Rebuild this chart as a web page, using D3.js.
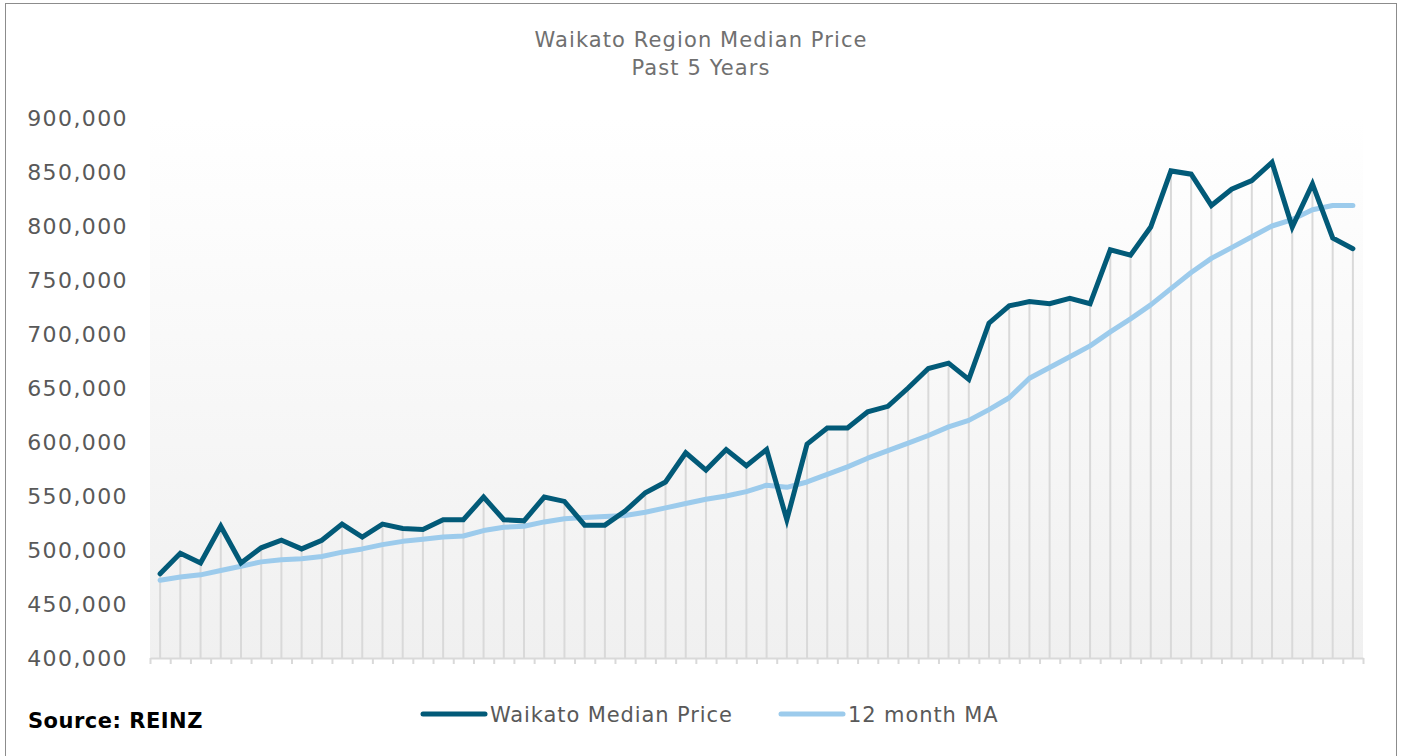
<!DOCTYPE html>
<html>
<head>
<meta charset="utf-8">
<script src="https://cdn.jsdelivr.net/npm/d3@7"></script>
<style>
  body { margin: 0; background: #fff; }
  svg { display: block; }
</style>
</head>
<body>
<div id="chart"></div>
<script>
// month index, 60 months = past 5 years
var months = d3.range(1, 61);

// Waikato median price (NZD)
var medianPrice = [
  478000, 497000, 488000, 522000, 488000, 502000, 509000, 501000, 509000, 524000,
  512000, 524000, 520000, 519000, 528000, 528000, 549000, 528000, 527000, 549000,
  545000, 523000, 523000, 536000, 553000, 563000, 590000, 574000, 593000, 578000,
  593000, 528000, 598000, 613000, 613000, 628000, 633000, 650000, 668000, 673000,
  658000, 710000, 726000, 730000, 728000, 733000, 728000, 778000, 773000, 799000,
  851000, 848000, 819000, 834000, 842000, 859000, 799000, 839000, 789000, 779000
];

// 12 month moving average
var movingAvg = [
  472000, 475000, 477000, 481000, 485000, 489000, 491000, 492000, 494000, 498000,
  501000, 505000, 508000, 510000, 512000, 513000, 518000, 521000, 522000, 526000,
  529000, 530000, 531000, 532000, 535000, 539000, 543000, 547000, 550000, 554000,
  560000, 558000, 563000, 570000, 577000, 585000, 592000, 599000, 606000, 614000,
  620000, 630000, 641000, 659000, 669000, 679000, 689000, 702000, 714000, 727000,
  742000, 757000, 770000, 780000, 790000, 800000, 806000, 815000, 819000, 819000
];

var yTicks = [400000, 450000, 500000, 550000, 600000, 650000, 700000, 750000, 800000, 850000, 900000];

var width = 1403, height = 756;
var plotLeft = 150, plotRight = 1363, plotTop = 118, plotBottom = 658;
var darkBlue = "#025a78", lightBlue = "#9ccbec";
var font = "'DejaVu Sans', sans-serif";

var svg = d3.select("#chart").append("svg")
  .attr("width", width)
  .attr("height", height);

// outer frame
svg.append("rect")
  .attr("x", 5.5).attr("y", 3.5)
  .attr("width", 1391).attr("height", 760)
  .attr("fill", "none")
  .attr("stroke", "#8c8c8c")
  .attr("stroke-width", 1);

// plot area gradient
var grad = svg.append("defs").append("linearGradient")
  .attr("id", "bg").attr("x1", 0).attr("y1", 0).attr("x2", 0).attr("y2", 1);
grad.append("stop").attr("offset", "0%").attr("stop-color", "#ffffff");
grad.append("stop").attr("offset", "100%").attr("stop-color", "#f0f0f0");

svg.append("rect")
  .attr("x", plotLeft).attr("y", plotTop)
  .attr("width", plotRight - plotLeft).attr("height", plotBottom - plotTop)
  .attr("fill", "url(#bg)");

var x = d3.scaleBand().domain(months).range([plotLeft, plotRight]);
var xEdge = d3.scaleLinear().domain([0, months.length]).range([plotLeft, plotRight]);
var y = d3.scaleLinear().domain([400000, 900000]).range([plotBottom, plotTop]);

var cx = function(d, i) { return x(months[i]) + x.bandwidth() / 2; };

// drop lines
svg.append("g").selectAll("line")
  .data(medianPrice)
  .enter().append("line")
  .attr("x1", cx).attr("x2", cx)
  .attr("y1", function(d) { return y(d); })
  .attr("y2", plotBottom)
  .attr("stroke", "#d9d9d9")
  .attr("stroke-width", 2);

// x axis (ticks between categories)
var xAxis = svg.append("g")
  .attr("transform", "translate(0," + plotBottom + ")")
  .call(d3.axisBottom(xEdge).tickValues(d3.range(0, months.length + 1)).tickFormat("").tickSize(6).tickSizeOuter(0));
xAxis.selectAll("line, path").attr("stroke", "#d9d9d9").attr("stroke-width", 2);

// y axis
var yAxis = svg.append("g")
  .attr("transform", "translate(" + plotLeft + ",0)")
  .call(d3.axisLeft(y).tickValues(yTicks).tickFormat(d3.format(",")).tickSize(0).tickPadding(22));
yAxis.select(".domain").remove();
yAxis.selectAll("text")
  .attr("font-family", font)
  .attr("font-size", 22)
  .attr("letter-spacing", 1.4)
  .attr("fill", "#595959");

var line = d3.line()
  .x(cx)
  .y(function(d) { return y(d); });

svg.append("path")
  .datum(movingAvg)
  .attr("d", line)
  .attr("fill", "none")
  .attr("stroke", lightBlue)
  .attr("stroke-width", 5)
  .attr("stroke-linejoin", "round")
  .attr("stroke-linecap", "round");

svg.append("path")
  .datum(medianPrice)
  .attr("d", line)
  .attr("fill", "none")
  .attr("stroke", darkBlue)
  .attr("stroke-width", 5)
  .attr("stroke-linejoin", "miter")
  .attr("stroke-linecap", "round");

// title
svg.append("text")
  .attr("x", 701).attr("y", 47)
  .attr("text-anchor", "middle")
  .attr("font-family", font).attr("font-size", 21)
  .attr("letter-spacing", 1.1)
  .attr("fill", "#707070")
  .text("Waikato Region Median Price");
svg.append("text")
  .attr("x", 701).attr("y", 75)
  .attr("text-anchor", "middle")
  .attr("font-family", font).attr("font-size", 21)
  .attr("letter-spacing", 1.1)
  .attr("fill", "#707070")
  .text("Past 5 Years");

// legend
var legend = [
  { name: "Waikato Median Price", color: darkBlue, x: 423 },
  { name: "12 month MA", color: lightBlue, x: 781 }
];
var lg = svg.append("g").selectAll("g")
  .data(legend)
  .enter().append("g")
  .attr("transform", function(d) { return "translate(" + d.x + ",714)"; });
lg.append("line")
  .attr("x1", 0).attr("x2", 62)
  .attr("stroke", function(d) { return d.color; })
  .attr("stroke-width", 5)
  .attr("stroke-linecap", "round");
lg.append("text")
  .attr("x", 67).attr("y", 8)
  .attr("font-family", font).attr("font-size", 21)
  .attr("letter-spacing", 0.9)
  .attr("fill", "#595959")
  .text(function(d) { return d.name; });

// source
svg.append("text")
  .attr("x", 28).attr("y", 728)
  .attr("font-family", font).attr("font-size", 21)
  .attr("font-weight", 900)
  .attr("letter-spacing", 0.5)
  .attr("fill", "#000")
  .text("Source: REINZ");
</script>
</body>
</html>
